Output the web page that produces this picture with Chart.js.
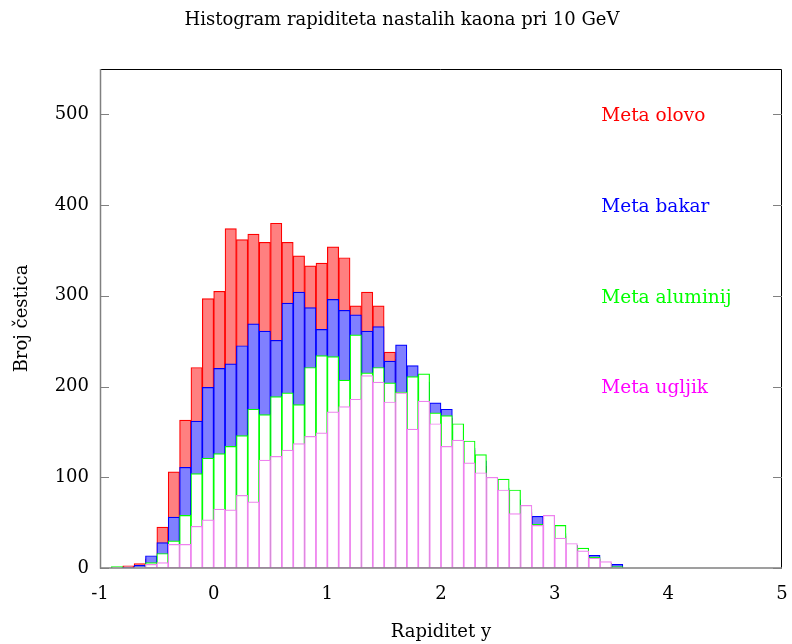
<!DOCTYPE html>
<html>
<head>
<meta charset="utf-8">
<title>Histogram rapiditeta</title>
<script src="https://cdn.jsdelivr.net/npm/chart.js@4.4.1/dist/chart.umd.min.js"></script>
<style>
    body { margin: 0; background: #fff; }
    #wrap { width: 792px; height: 644px; }
</style>
</head>
<body>
<div id="wrap"><canvas id="histChart" width="792" height="644"></canvas></div>
<script>
// ---------------- Data (bin centres, width 0.1) ----------------
const binCenters = [-0.85, -0.75, -0.65, -0.55, -0.45, -0.35, -0.25, -0.15, -0.05,
    0.05, 0.15, 0.25, 0.35, 0.45, 0.55, 0.65, 0.75, 0.85, 0.95,
    1.05, 1.15, 1.25, 1.35, 1.45, 1.55, 1.65, 1.75, 1.85, 1.95,
    2.05, 2.15, 2.25, 2.35, 2.45, 2.55, 2.65, 2.75, 2.85, 2.95,
    3.05, 3.15, 3.25, 3.35, 3.45, 3.55];

const olovo = [0, 2.5, 5, 10, 45, 106, 163, 221, 297,
    305, 374, 362, 368, 359, 380, 359, 344, 333, 336,
    354, 342, 289, 304, 289, 238, 230, 212, 200, 175,
    165, 150, 130, 112, 95, 85, 72, 60, 50, 45,
    35, 24, 16, 10, 5, 2];

const bakar = [0, 1, 3, 13.5, 28, 56, 111, 162, 199,
    220, 225, 245, 269, 261, 251, 292, 304, 287, 263,
    296, 284, 279, 261, 266, 228, 246, 223, 205, 182,
    175, 150, 132, 118, 95, 88, 75, 62, 57, 45,
    38, 25, 18, 14, 5, 4];

const aluminij = [1.5, 0, 1, 6, 16, 30, 58, 104, 121,
    126, 134, 146, 175, 169, 189, 193, 180, 221, 234,
    233, 207, 257, 215, 221, 204, 194, 211, 214, 171,
    168, 159, 140, 125, 97, 98, 86, 65, 48, 55,
    47, 25, 22, 12, 5, 1.5];

const ugljik = [0, 0, 1, 4, 6, 26, 26, 46, 53,
    65, 64, 80, 73, 119, 123, 130, 137, 145, 149,
    172, 178, 186, 212, 205, 183, 193, 153, 184, 159,
    134, 141, 116, 105, 100, 86, 60, 69, 47, 58,
    33, 27, 19, 11, 7, 0];

const seriesNames = ['Meta olovo', 'Meta bakar', 'Meta aluminij', 'Meta ugljik'];
const textColors = ['#ff0000', '#0000ff', '#00ff00', '#ff00ff'];
const yTicks = [0, 100, 200, 300, 400, 500];

const FONT = "'DejaVu Serif', 'Liberation Serif', serif";

function toPoints(vals) {
    return binCenters.map((x, i) => ({ x: x, y: vals[i] }));
}

// ---------------- Frame, inward ticks, title and key ----------------
const gnuplotLook = {
    id: 'gnuplotLook',
    afterDraw(chart) {
        const ctx = chart.ctx;
        const a = chart.chartArea;
        const ys = chart.scales.y;
        const xs = chart.scales.x;
        ctx.save();

        // border: top/right black, left/bottom grey
        ctx.lineWidth = 1;
        ctx.strokeStyle = '#000';
        ctx.beginPath();
        ctx.moveTo(a.left, a.top + 0.5);
        ctx.lineTo(a.right - 0.5, a.top + 0.5);
        ctx.lineTo(a.right - 0.5, a.bottom);
        ctx.stroke();

        ctx.lineWidth = 1.5;
        ctx.strokeStyle = '#808080';
        ctx.beginPath();
        ctx.moveTo(a.left + 0.5, a.top);
        ctx.lineTo(a.left + 0.5, a.bottom);
        ctx.lineTo(a.right, a.bottom);
        ctx.stroke();

        // inward y ticks on both sides
        ctx.lineWidth = 1;
        yTicks.forEach(v => {
            const py = Math.round(ys.getPixelForValue(v)) + 0.5;
            ctx.beginPath();
            ctx.moveTo(a.left, py);
            ctx.lineTo(a.left + 9, py);
            ctx.moveTo(a.right, py);
            ctx.lineTo(a.right - 9, py);
            ctx.stroke();
        });

        // title
        ctx.fillStyle = '#000';
        ctx.font = '18px ' + FONT;
        ctx.textAlign = 'center';
        ctx.textBaseline = 'middle';
        ctx.fillText('Histogram rapiditeta nastalih kaona pri 10 GeV', 402, 20);

        // key: coloured names only
        ctx.textAlign = 'left';
        ctx.font = '18.5px ' + FONT;
        const keyX = xs.getPixelForValue(3.41);
        chart.data.datasets.forEach((ds, i) => {
            ctx.fillStyle = textColors[i];
            ctx.fillText(ds.label, keyX, ys.getPixelForValue(500 - i * 100) + 2);
        });
        ctx.restore();
    }
};

const ctx = document.getElementById('histChart').getContext('2d');
new Chart(ctx, {
    type: 'bar',
    data: {
        datasets: [
            { label: seriesNames[0], data: toPoints(olovo), order: 4,
              backgroundColor: '#ff8080', borderColor: '#ff0000' },
            { label: seriesNames[1], data: toPoints(bakar), order: 3,
              backgroundColor: '#8080ff', borderColor: '#0000ff' },
            { label: seriesNames[2], data: toPoints(aluminij), order: 2,
              backgroundColor: '#ffffff', borderColor: '#00ff00' },
            { label: seriesNames[3], data: toPoints(ugljik), order: 1,
              backgroundColor: '#ffffff', borderColor: '#ee82ee' }
        ]
    },
    options: {
        responsive: false,
        animation: false,
        grouped: false,
        barPercentage: 1,
        categoryPercentage: 1,
        borderWidth: 1.2,
        borderSkipped: false,
        layout: { padding: { top: 69, right: 10, left: 0, bottom: 0 } },
        plugins: {
            legend: { display: false },
            tooltip: { enabled: false },
            title: { display: false }
        },
        scales: {
            x: {
                type: 'linear',
                min: -1,
                max: 5,
                offset: false,
                grid: { display: false, drawTicks: false, offset: false },
                border: { display: false },
                ticks: { stepSize: 1, padding: 16, color: '#000', font: { family: FONT, size: 18 } },
                title: { display: true, text: 'Rapiditet y', color: '#000',
                         padding: { top: 0, bottom: 1 }, font: { family: FONT, size: 18 } },
                afterFit: scale => {
                    scale.height = 76;
                    scale.paddingLeft = 0;
                    scale.paddingRight = 0;
                }
            },
            y: {
                min: 0,
                max: 550,
                grid: { display: false, drawTicks: false },
                border: { display: false },
                ticks: { stepSize: 100, includeBounds: false, padding: 11, color: '#000',
                         font: { family: FONT, size: 18 } },
                title: { display: true, text: 'Broj čestica', color: '#000',
                         padding: { top: 12, bottom: 0 }, font: { family: FONT, size: 18 } },
                afterFit: scale => { scale.width = 100; }
            }
        }
    },
    plugins: [gnuplotLook]
});
</script>
</body>
</html>
